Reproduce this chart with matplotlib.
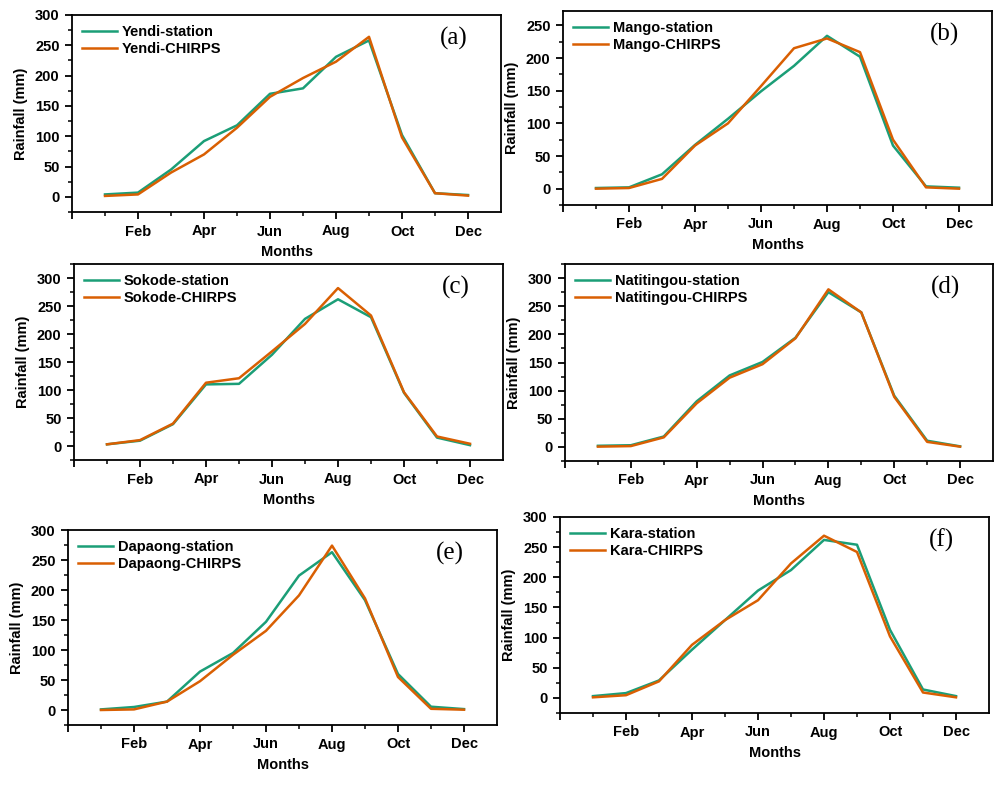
import matplotlib
matplotlib.use('Agg')
import matplotlib.pyplot as plt
from matplotlib.ticker import MultipleLocator, FixedLocator
import numpy as np

plt.rcParams['font.family'] = ['Liberation Sans', 'DejaVu Sans']
plt.rcParams['font.weight'] = 'bold'

months = np.arange(1, 13)
month_ticks = [0, 2, 4, 6, 8, 10, 12]
month_labels = ['', 'Feb', 'Apr', 'Jun', 'Aug', 'Oct', 'Dec']

# Monthly rainfall (mm)
yendi_station = [4, 7, 45, 92, 118, 170, 179, 231, 258, 102, 6, 3]
yendi_chirps = [1.5, 4, 40, 70, 114, 165, 196, 223, 264, 98, 6, 2]

mango_station = [1, 2, 22, 67, 107, 149, 188, 234, 202, 66, 3.5, 1.5]
mango_chirps = [0, 1, 15, 66, 100, 157, 215, 230, 209, 75, 2, 0]

sokode_station = [3, 9.5, 39, 110, 111, 163, 227, 262, 230, 95, 15, 1.5]
sokode_chirps = [3, 10.5, 40, 113, 121, 169, 218, 282, 233, 96, 17, 4]

natitingou_station = [2, 3, 18.5, 81, 127, 151, 194, 275, 239, 91, 11, 1]
natitingou_chirps = [0.5, 1.5, 17, 77.5, 123, 147, 193, 280, 239, 89, 9, 0.5]

dapaong_station = [1, 5, 14, 64, 95, 147, 224, 263, 183, 60, 5.5, 1.5]
dapaong_chirps = [0, 1, 14, 48, 92, 132, 191, 274, 186, 55, 2, 0.5]

kara_station = [3, 8, 29, 80, 129, 178, 212, 262, 254, 113, 14, 3]
kara_chirps = [1, 4.5, 27.5, 88, 129, 162, 223, 269, 242, 102, 9, 1]

station_color = '#1b9e77'
chirps_color = '#d95f02'

W, H = 996, 787
fig = plt.figure(figsize=(W / 100, H / 100), dpi=100)

# pixel boxes: left, top, right, bottom
panels = [
    ('Yendi', yendi_station, yendi_chirps, '(a)', (72, 15, 501, 212), (-25, 300)),
    ('Mango', mango_station, mango_chirps, '(b)', (563, 11, 992, 205), (-25, 272)),
    ('Sokode', sokode_station, sokode_chirps, '(c)', (74, 264, 503, 460), (-25, 325)),
    ('Natitingou', natitingou_station, natitingou_chirps, '(d)', (565, 264, 993, 461), (-25, 325)),
    ('Dapaong', dapaong_station, dapaong_chirps, '(e)', (68, 530, 497, 725), (-25, 300)),
    ('Kara', kara_station, kara_chirps, '(f)', (560, 517, 989, 713), (-25, 300)),
]

for name, st, ch, tag, box, ylim in panels:
    l, t, r, b = box
    ax = fig.add_axes([l / W, (H - b) / H, (r - l) / W, (b - t) / H])
    ax.plot(months, st, color=station_color, lw=1.8, label=f'{name}-station')
    ax.plot(months, ch, color=chirps_color, lw=1.8, label=f'{name}-CHIRPS')
    ax.set_xlim(0, 13)
    ax.set_ylim(*ylim)
    ax.xaxis.set_major_locator(FixedLocator(month_ticks))
    ax.set_xticklabels(month_labels)
    ax.xaxis.set_minor_locator(FixedLocator([1, 3, 5, 7, 9, 11]))
    ax.yaxis.set_major_locator(MultipleLocator(50))
    ax.yaxis.set_minor_locator(MultipleLocator(25))
    ax.tick_params(which='major', direction='out', length=5, width=1.3, labelsize=10.5, pad=4)
    ax.tick_params(which='minor', direction='out', length=3, width=1.1)
    for lab in ax.get_xticklabels() + ax.get_yticklabels():
        lab.set_fontweight('bold')
    for sp in ax.spines.values():
        sp.set_linewidth(1.3)
    ax.set_xlabel('Months', fontsize=10.5, fontweight='bold', labelpad=5)
    ax.set_ylabel('Rainfall (mm)', fontsize=10.5, fontweight='bold', labelpad=5)
    ax.legend(loc='upper left', bbox_to_anchor=(0.0, 1.0), frameon=False,
              prop={'size': 10.5, 'weight': 'bold'}, handlelength=2.4,
              handletextpad=0.3, labelspacing=0.2, borderaxespad=0.3)
    ax.text(0.89, 0.88, tag, transform=ax.transAxes, ha='center', va='center',
            fontsize=18, family='Liberation Serif', fontweight='normal')

fig.savefig('out.png', dpi=100)
